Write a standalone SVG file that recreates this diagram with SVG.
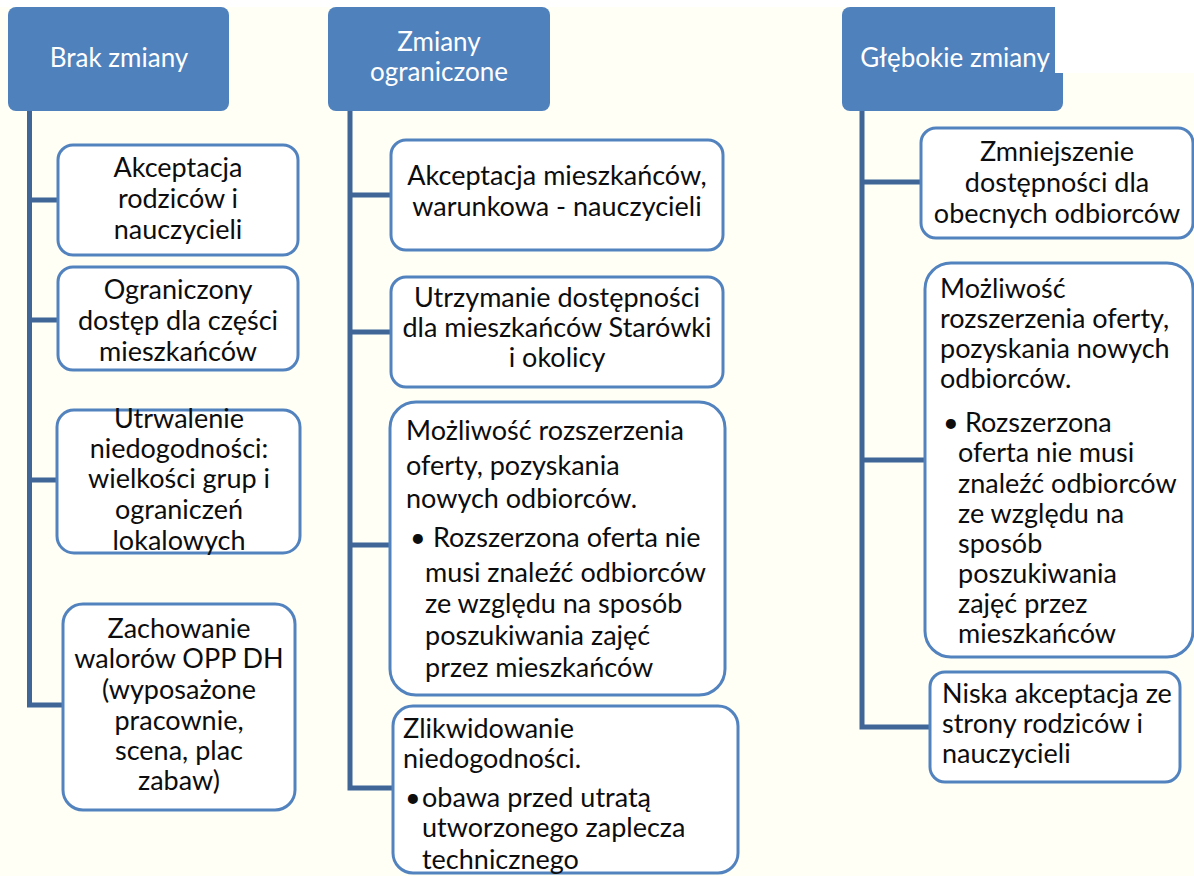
<svg xmlns="http://www.w3.org/2000/svg" width="1194" height="876" viewBox="0 0 1194 876">
<style>
.bg{fill:#fffff6}
.hdr{fill:#4f81bd}
.ht{fill:#ffffff;font-family:Lato,"Liberation Sans",sans-serif;font-size:26px;text-anchor:middle}
.box{fill:#ffffff;stroke:#5283bf;stroke-width:3}
.t{fill:#0d0d0d;font-family:Lato,"Liberation Sans",sans-serif;font-size:27px}
.c{text-anchor:middle}
.conn{fill:none;stroke:#3f6697;stroke-width:5;stroke-linejoin:miter}
</style>
<rect x="0" y="0" width="1194" height="876" class="bg"/>
<rect x="0" y="0" width="1194" height="7" fill="#ffffff"/>

<g id="connectors">
<path class="conn" d="M29.5 111 V705 H63 M29.5 200 H58 M29.5 320 H58 M29.5 480 H57"/>
<path class="conn" d="M350 111 V788 H393 M350 195 H391 M350 332 H391 M350 545 H390"/>
<path class="conn" d="M862 111 V727 H930 M862 182 H921 M862 460 H925"/>
</g>

<g id="h1">
<rect class="hdr" x="8" y="7" width="221" height="104" rx="8"/>
<text class="ht" x="119" y="67">Brak zmiany</text>
</g>
<g id="h2">
<rect class="hdr" x="328" y="7" width="222" height="104" rx="8"/>
<text class="ht"><tspan x="439" y="51">Zmiany</tspan><tspan x="439" y="81">ograniczone</tspan></text>
</g>
<g id="h3">
<rect class="hdr" x="842" y="7" width="221" height="104" rx="8"/>
<rect x="1055" y="0" width="139" height="73" fill="#ffffff"/>
<text class="ht" x="955" y="67">Głębokie zmiany</text>
</g>

<g id="n1a">
<rect class="box" x="58" y="145" width="240" height="110" rx="15"/>
<text class="t c"><tspan x="178" y="177">Akceptacja</tspan><tspan x="178" y="208">rodziców i</tspan><tspan x="178" y="239">nauczycieli</tspan></text>
</g>
<g id="n1b">
<rect class="box" x="58" y="267" width="240" height="103" rx="15"/>
<text class="t c"><tspan x="178" y="299">Ograniczony</tspan><tspan x="178" y="330">dostęp dla części</tspan><tspan x="178" y="361">mieszkańców</tspan></text>
</g>
<g id="n1c">
<rect class="box" x="57" y="410" width="243" height="143" rx="17"/>
<text class="t c"><tspan x="179" y="428">Utrwalenie</tspan><tspan x="179" y="458">niedogodności:</tspan><tspan x="179" y="488">wielkości grup i</tspan><tspan x="179" y="519">ograniczeń</tspan><tspan x="179" y="550">lokalowych</tspan></text>
</g>
<g id="n1d">
<rect class="box" x="63" y="604" width="232" height="206" rx="20"/>
<text class="t c"><tspan x="179" y="638">Zachowanie</tspan><tspan x="179" y="668">walorów OPP DH</tspan><tspan x="179" y="699">(wyposażone</tspan><tspan x="179" y="730">pracownie,</tspan><tspan x="179" y="760">scena, plac</tspan><tspan x="179" y="790">zabaw)</tspan></text>
</g>

<g id="n2a">
<rect class="box" x="391" y="140" width="332" height="110" rx="15"/>
<text class="t c"><tspan x="557" y="185">Akceptacja mieszkańców,</tspan><tspan x="557" y="216">warunkowa - nauczycieli</tspan></text>
</g>
<g id="n2b">
<rect class="box" x="391" y="277" width="332" height="110" rx="15"/>
<text class="t c"><tspan x="557" y="307">Utrzymanie dostępności</tspan><tspan x="557" y="337">dla mieszkańców Starówki</tspan><tspan x="557" y="367">i okolicy</tspan></text>
</g>
<g id="n2c">
<rect class="box" x="390" y="402" width="335" height="293" rx="26"/>
<text class="t"><tspan x="406" y="440">Możliwość rozszerzenia</tspan><tspan x="406" y="475">oferty, pozyskania</tspan><tspan x="406" y="508">nowych odbiorców.</tspan><tspan x="410" y="547">•</tspan><tspan x="433" y="547">Rozszerzona oferta nie</tspan><tspan x="425" y="582">musi znaleźć odbiorców</tspan><tspan x="425" y="613">ze względu na sposób</tspan><tspan x="425" y="645">poszukiwania zajęć</tspan><tspan x="425" y="677">przez mieszkańców</tspan></text>
</g>
<g id="n2d">
<rect class="box" x="393" y="706" width="345" height="167" rx="20"/>
<text class="t"><tspan x="403" y="738">Zlikwidowanie</tspan><tspan x="403" y="768">niedogodności.</tspan><tspan x="405" y="807">•</tspan><tspan x="422" y="807">obawa przed utratą</tspan><tspan x="422" y="837">utworzonego zaplecza</tspan><tspan x="422" y="869">technicznego</tspan></text>
</g>

<g id="n3a">
<rect class="box" x="921" y="128" width="272" height="110" rx="15"/>
<text class="t c"><tspan x="1057" y="161">Zmniejszenie</tspan><tspan x="1057" y="192">dostępności dla</tspan><tspan x="1057" y="223">obecnych odbiorców</tspan></text>
</g>
<g id="n3b">
<rect class="box" x="925" y="263" width="268" height="394" rx="26"/>
<text class="t"><tspan x="940" y="298">Możliwość</tspan><tspan x="940" y="328">rozszerzenia oferty,</tspan><tspan x="940" y="358">pozyskania nowych</tspan><tspan x="940" y="388">odbiorców.</tspan><tspan x="943" y="432">•</tspan><tspan x="965" y="432">Rozszerzona</tspan><tspan x="958" y="462">oferta nie musi</tspan><tspan x="958" y="493">znaleźć odbiorców</tspan><tspan x="958" y="523">ze względu na</tspan><tspan x="958" y="553">sposób</tspan><tspan x="958" y="583">poszukiwania</tspan><tspan x="958" y="613">zajęć przez</tspan><tspan x="958" y="643">mieszkańców</tspan></text>
</g>
<g id="n3c">
<rect class="box" x="930" y="672" width="250" height="110" rx="15"/>
<text class="t"><tspan x="942" y="703">Niska akceptacja ze</tspan><tspan x="942" y="733">strony rodziców i</tspan><tspan x="942" y="763">nauczycieli</tspan></text>
</g>
</svg>
